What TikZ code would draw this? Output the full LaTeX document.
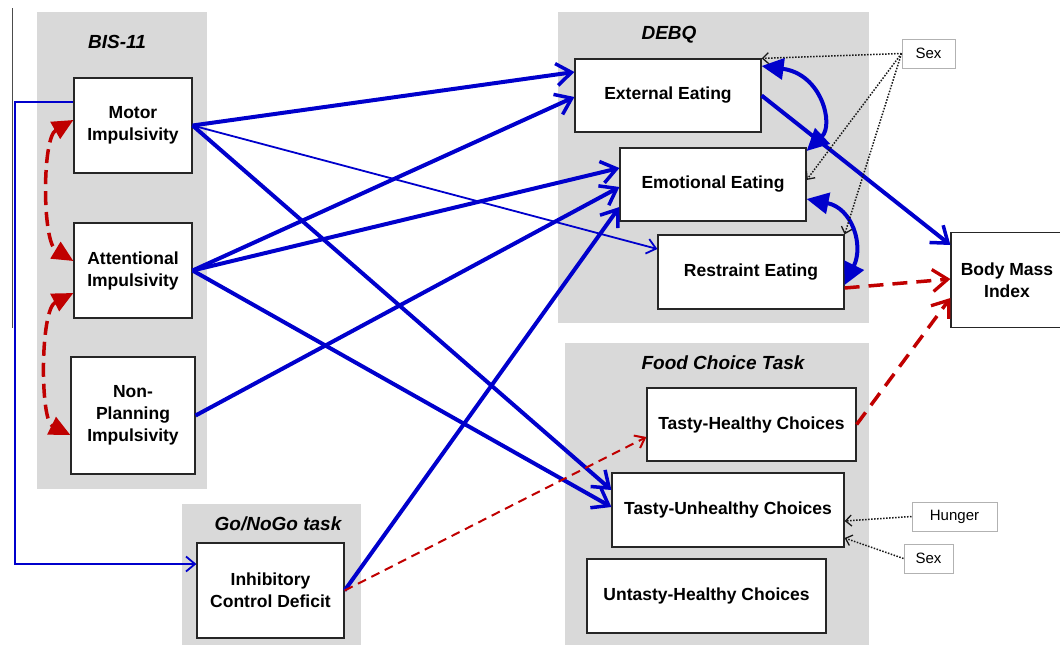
\documentclass[tikz,border=0pt]{standalone}
\usepackage{fontspec}
\setmainfont{Liberation Sans}
\usetikzlibrary{arrows.meta}
\definecolor{pathblue}{RGB}{0,0,204}
\definecolor{pathred}{RGB}{192,0,0}
\definecolor{panelgray}{RGB}{217,217,217}
\begin{document}
\begin{tikzpicture}[x=1pt, y=-1pt,
  title/.style={font=\fontsize{19}{22}\selectfont\bfseries\itshape},
  var/.style={draw=black!85, line width=1.2pt, fill=white, align=center, inner sep=0pt, font=\fontsize{17.5}{22}\selectfont\bfseries},
  cov/.style={draw=black!30, line width=1pt, fill=white, inner sep=0pt, font=\fontsize{15}{18}\selectfont},
  strong/.style={pathblue, line width=4pt, -{Straight Barb[length=15pt,width=22pt,line width=3.5pt]}},
  weak/.style={pathblue, line width=1.8pt, -{Straight Barb[length=9pt,width=15pt,line width=1.8pt]}},
  bothblue/.style={pathblue, line width=4pt, {Triangle[length=22pt,width=21pt]}-{Triangle[length=22pt,width=21pt]}},
  bothred/.style={pathred, line width=3.5pt, dash pattern=on 14pt off 7pt, {Triangle[length=21pt,width=19pt]}-{Triangle[length=21pt,width=19pt]}},
  negstrong/.style={pathred, line width=3.5pt, dash pattern=on 15pt off 9pt, -{Straight Barb[length=15pt,width=22pt,line width=3.3pt]}},
  negweak/.style={pathred, line width=2pt, dash pattern=on 9pt off 6pt, -{Straight Barb[length=9pt,width=14pt,line width=2pt]}},
  control/.style={black!90, line width=1.5pt, dash pattern=on 1.5pt off 1.5pt, -{Straight Barb[length=6pt,width=11pt,line width=1.3pt]}}]
\useasboundingbox (0,0) rectangle (1060,645);
\draw [black!70, line width=1pt] (12,8) -- (12,328);
\fill [panelgray] (37,12) rectangle (207,489);
\fill [panelgray] (558,12) rectangle (869,323);
\fill [panelgray] (565,343) rectangle (869,645);
\fill [panelgray] (182,504) rectangle (361,645);
\node [title] (bistitle) at (117,42) {BIS-11};
\node [title] (debqtitle) at (669,35) {DEBQ};
\node [title] (fctitle) at (723,363) {Food Choice Task};
\node [title] (gotitle) at (278,524) {Go/NoGo task};
\node [var, minimum width=118pt, minimum height=95pt] (motor) at (133,125.5) {Motor\\Impulsivity};
\node [var, minimum width=118pt, minimum height=95pt] (attn) at (133,270.5) {Attentional\\Impulsivity};
\node [var, minimum width=124pt, minimum height=117pt] (nonplan) at (133,415.5) {Non-\\Planning\\Impulsivity};
\node [var, minimum width=147pt, minimum height=95pt] (inhib) at (270.5,590.5) {Inhibitory\\Control Deficit};
\node [var, minimum width=186pt, minimum height=73pt] (ext) at (668,95.5) {External Eating};
\node [var, minimum width=186pt, minimum height=73pt] (emo) at (713,184.5) {Emotional Eating};
\node [var, minimum width=186pt, minimum height=74pt] (restr) at (751,272) {Restraint Eating};
\node [var, minimum width=112pt, minimum height=95pt] (bmi) at (1007,280) {Body Mass\\Index};
\node [var, minimum width=209pt, minimum height=73pt] (tasty) at (751.5,424.5) {Tasty-Healthy Choices};
\node [var, minimum width=232pt, minimum height=74pt] (unhealthy) at (728,510) {Tasty-Unhealthy Choices};
\node [var, minimum width=239pt, minimum height=74pt] (untasty) at (706.5,596) {Untasty-Healthy Choices};
\node [cov, minimum width=53pt, minimum height=29pt] (sextop) at (928.5,53.5) {Sex};
\node [cov, minimum width=85pt, minimum height=29pt] (hunger) at (954.5,516.5) {Hunger};
\node [cov, minimum width=49pt, minimum height=29pt] (sexfood) at (928.5,558.5) {Sex};
\coordinate (elbow) at (15,564);
\draw [weak] (motor.west |- 0,102) -| (elbow) -- (inhib.west |- elbow);
\draw [strong] (motor.east) -- (ext.west |- 0,72);
\draw [weak] (motor.east) -- (restr.west |- 0,249);
\draw [strong] (motor.east) -- (unhealthy.west |- 0,490);
\draw [strong] (attn.east) -- (ext.west |- 0,97);
\draw [strong] (attn.east) -- (emo.west |- 0,168);
\draw [strong] (attn.east) -- (unhealthy.west |- 0,507);
\draw [strong] (nonplan.east) -- (emo.west |- 0,187);
\draw [strong] (inhib.east) -- (emo.west |- 0,207);
\draw [negweak] (inhib.east) -- (tasty.west |- 0,437);
\draw [strong] (ext.east) -- (bmi.west |- 0,245);
\draw [negstrong] (restr.east |- 0,288) -- (bmi.west |- 0,279);
\draw [negstrong] (tasty.east) -- (bmi.west |- 0,298);
\draw [bothblue] (ext.east |- 0,66) .. controls (822,74) and (834,125) .. (emo.east |- 0,151);
\draw [bothblue] (emo.east |- 0,199) .. controls (852,208) and (864,245) .. (restr.east |- 0,285);
\draw [bothred] (motor.west |- 0,120) .. controls (42,138) and (42,242) .. (attn.west |- 0,261);
\draw [bothred] (attn.west |- 0,293) .. controls (40,310) and (40,420) .. (nonplan.west |- 0,435);
\draw [control] (sextop.west) -- (ext.north east);
\draw [control] (sextop.west) -- (emo.east |- 0,180);
\draw [control] (sextop.west) -- (restr.north east);
\draw [control] (hunger.west) -- (unhealthy.east |- 0,521);
\draw [control] (sexfood.west) -- (unhealthy.east |- 0,538);
\end{tikzpicture}
\end{document}
